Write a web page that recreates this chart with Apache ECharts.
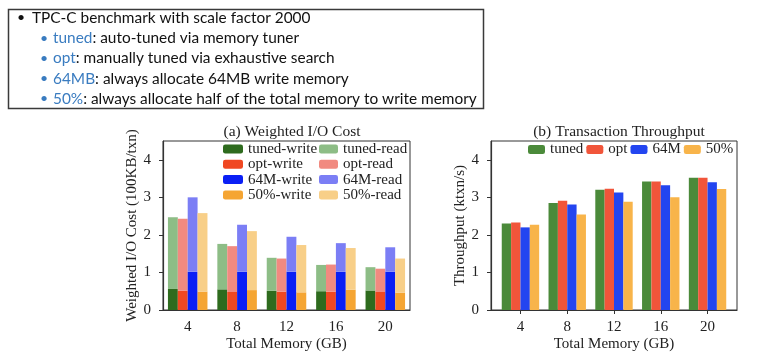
<!DOCTYPE html>
<html>
<head>
<meta charset="utf-8">
<script src="https://cdn.jsdelivr.net/npm/echarts@6/dist/echarts.min.js"></script>
<style>
html,body{margin:0;padding:0;background:#fff;}
#c{width:759px;height:362px;}
</style>
</head>
<body>
<div id="c"></div>
<script>
// ---- data ----
var memoryGB = [4, 8, 12, 16, 20];
var memoryLabels = ['4', '8', '12', '16', '20'];
var yTicks = [0, 1, 2, 3, 4];

// (a) Weighted I/O cost (100KB/txn): write part and read part (stacked)
var tunedWrite = [0.56, 0.55, 0.51, 0.50, 0.52];
var tunedRead  = [1.91, 1.21, 0.88, 0.70, 0.62];
var optWrite   = [0.51, 0.48, 0.49, 0.49, 0.48];
var optRead    = [1.92, 1.22, 0.88, 0.72, 0.62];
var m64Write   = [1.02, 1.02, 1.02, 1.02, 1.02];
var m64Read    = [1.98, 1.25, 0.93, 0.76, 0.65];
var p50Write   = [0.49, 0.53, 0.47, 0.54, 0.46];
var p50Read    = [2.09, 1.57, 1.26, 1.11, 0.91];

// (b) Transaction throughput (ktxn/s)
var tunedTput = [2.30, 2.85, 3.20, 3.42, 3.52];
var optTput   = [2.33, 2.91, 3.23, 3.42, 3.52];
var m64Tput   = [2.20, 2.81, 3.13, 3.32, 3.40];
var p50Tput   = [2.27, 2.54, 2.88, 3.00, 3.22];

// header bullets
var headerLines = [
  {key: '', text: 'TPC-C benchmark with scale factor 2000'},
  {key: 'tuned', text: ': auto-tuned via memory tuner'},
  {key: 'opt', text: ': manually tuned via exhaustive search'},
  {key: '64MB', text: ': always allocate 64MB write memory'},
  {key: '50%', text: ': always allocate half of the total memory to write memory'}
];

// ---- chart ----
var serif = '"Liberation Serif", "DejaVu Serif", serif';
var axisColor = '#333';
var txt = '#222';
var chart = echarts.init(document.getElementById('c'), null, {renderer: 'canvas'});

function pairs(vals) { return vals.map(function (v, i) { return [memoryGB[i], v]; }); }

var graphics = [{
  type: 'rect', shape: {x: 8.5, y: 9.5, width: 475, height: 99},
  style: {fill: '#fff', stroke: '#3a3a3a', lineWidth: 1.5}, z: 10
}];
var lineY = [18.5, 39, 59, 79.5, 99.5];
headerLines.forEach(function (l, i) {
  var sub = i > 0;
  graphics.push({
    type: 'text', left: sub ? 40 : 17, top: lineY[i] - 8, z: 11,
    style: {text: '\u2022', fill: sub ? '#3a7cc0' : '#111', font: '14px Lato'}
  });
  graphics.push({
    type: 'text', left: sub ? 53 : 32, top: lineY[i] - 8, z: 11,
    style: {
      text: (l.key ? '{b|' + l.key + '}' : '') + l.text,
      fill: '#111', font: '15.4px Lato',
      rich: {b: {fill: '#3a7cc0', font: '15.4px Lato'}}
    }
  });
});

var leftColors = {
  'tuned-write': '#2e6b1e', 'tuned-read': '#8dbd86',
  'opt-write': '#f04822', 'opt-read': '#f18a80',
  '64M-write': '#0a1ff5', '64M-read': '#7b7ef5',
  '50%-write': '#f5a533', '50%-read': '#f8cf88'
};
var rightColors = {tuned: '#4b8a3a', opt: '#f1553a', '64M': '#2345f0', '50%': '#f8b44a'};

function stackBar(name, stack, data) {
  return {
    name: name, type: 'bar', stack: stack, xAxisIndex: 0, yAxisIndex: 0,
    data: data, barGap: '0%', barCategoryGap: '20%',
    itemStyle: {color: leftColors[name]}
  };
}
function tputBar(name, data) {
  return {
    name: name, type: 'bar', xAxisIndex: 1, yAxisIndex: 1,
    data: pairs(data), barGap: '0%', barCategoryGap: '20%',
    itemStyle: {color: rightColors[name]}
  };
}

var baseText = {fontFamily: serif, fontSize: 15, color: txt};
function legendText() { return {fontFamily: serif, fontSize: 15, color: txt, lineHeight: 15}; }

var option = {
  backgroundColor: '#fff',
  animation: false,
  graphic: graphics,
  title: [
    {text: '(a) Weighted I/O Cost', left: 287, top: 119, textAlign: 'center',
     textStyle: {fontFamily: serif, fontSize: 15.5, fontWeight: 'normal', color: txt}},
    {text: '(b) Transaction Throughput', left: 614, top: 119, textAlign: 'center',
     textStyle: {fontFamily: serif, fontSize: 15.5, fontWeight: 'normal', color: txt}}
  ],
  legend: [
    {orient: 'vertical', left: 223, top: 141.5, itemWidth: 20, itemHeight: 9, itemGap: 0.3,
     data: ['tuned-write', 'opt-write', '64M-write', '50%-write'], textStyle: legendText(),
     padding: 0, selectedMode: false},
    {orient: 'vertical', left: 319, top: 141.5, itemWidth: 19, itemHeight: 9, itemGap: 0.3,
     data: ['tuned-read', 'opt-read', '64M-read', '50%-read'], textStyle: legendText(),
     padding: 0, selectedMode: false},
    {orient: 'horizontal', left: 528, top: 142, itemWidth: 17, itemHeight: 9, itemGap: 3,
     data: ['tuned', 'opt', '64M', '50%'], textStyle: legendText(),
     padding: 0, selectedMode: false}
  ],
  grid: [
    {left: 163, top: 141, width: 247, height: 169, show: true, borderColor: axisColor, borderWidth: 1, containLabel: false},
    {left: 491, top: 141, width: 246, height: 169, show: true, borderColor: axisColor, borderWidth: 1, containLabel: false}
  ],
  xAxis: [
    {type: 'category', gridIndex: 0, data: memoryLabels,
     name: 'Total Memory (GB)', nameLocation: 'middle', nameGap: 27, nameTextStyle: baseText,
     axisLine: {lineStyle: {color: axisColor, width: 1.2}},
     axisTick: {alignWithLabel: true, length: 4, lineStyle: {color: axisColor}},
     axisLabel: Object.assign({margin: 10}, baseText), splitLine: {show: false}},
    {type: 'value', gridIndex: 1, min: 1.48, max: 22.52,
     name: 'Total Memory (GB)', nameLocation: 'middle', nameGap: 27, nameTextStyle: baseText,
     axisLine: {onZero: false, lineStyle: {color: axisColor, width: 1.2}},
     axisTick: {customValues: memoryGB, length: 4, lineStyle: {color: axisColor}},
     axisLabel: Object.assign({margin: 10, customValues: memoryGB}, baseText), splitLine: {show: false}}
  ],
  yAxis: [
    {type: 'value', gridIndex: 0, min: 0, max: 4.5,
     name: 'Weighted I/O Cost (100KB/txn)', nameLocation: 'middle', nameGap: 22, nameTextStyle: baseText,
     axisLine: {show: true, lineStyle: {color: axisColor, width: 1.2}},
     axisTick: {show: true, customValues: yTicks, length: 4, lineStyle: {color: axisColor}},
     axisLabel: Object.assign({margin: 12, customValues: yTicks}, baseText), splitLine: {show: false}},
    {type: 'value', gridIndex: 1, min: 0, max: 4.5,
     name: 'Throughput (ktxn/s)', nameLocation: 'middle', nameGap: 22, nameTextStyle: baseText,
     axisLine: {show: true, lineStyle: {color: axisColor, width: 1.2}},
     axisTick: {show: true, customValues: yTicks, length: 4, lineStyle: {color: axisColor}},
     axisLabel: Object.assign({margin: 12, customValues: yTicks}, baseText), splitLine: {show: false}}
  ],
  series: [
    stackBar('tuned-write', 'sTuned', tunedWrite),
    stackBar('tuned-read', 'sTuned', tunedRead),
    stackBar('opt-write', 'sOpt', optWrite),
    stackBar('opt-read', 'sOpt', optRead),
    stackBar('64M-write', 's64M', m64Write),
    stackBar('64M-read', 's64M', m64Read),
    stackBar('50%-write', 'sP50', p50Write),
    stackBar('50%-read', 'sP50', p50Read),
    tputBar('tuned', tunedTput),
    tputBar('opt', optTput),
    tputBar('64M', m64Tput),
    tputBar('50%', p50Tput)
  ]
};
chart.setOption(option);
</script>
</body>
</html>
